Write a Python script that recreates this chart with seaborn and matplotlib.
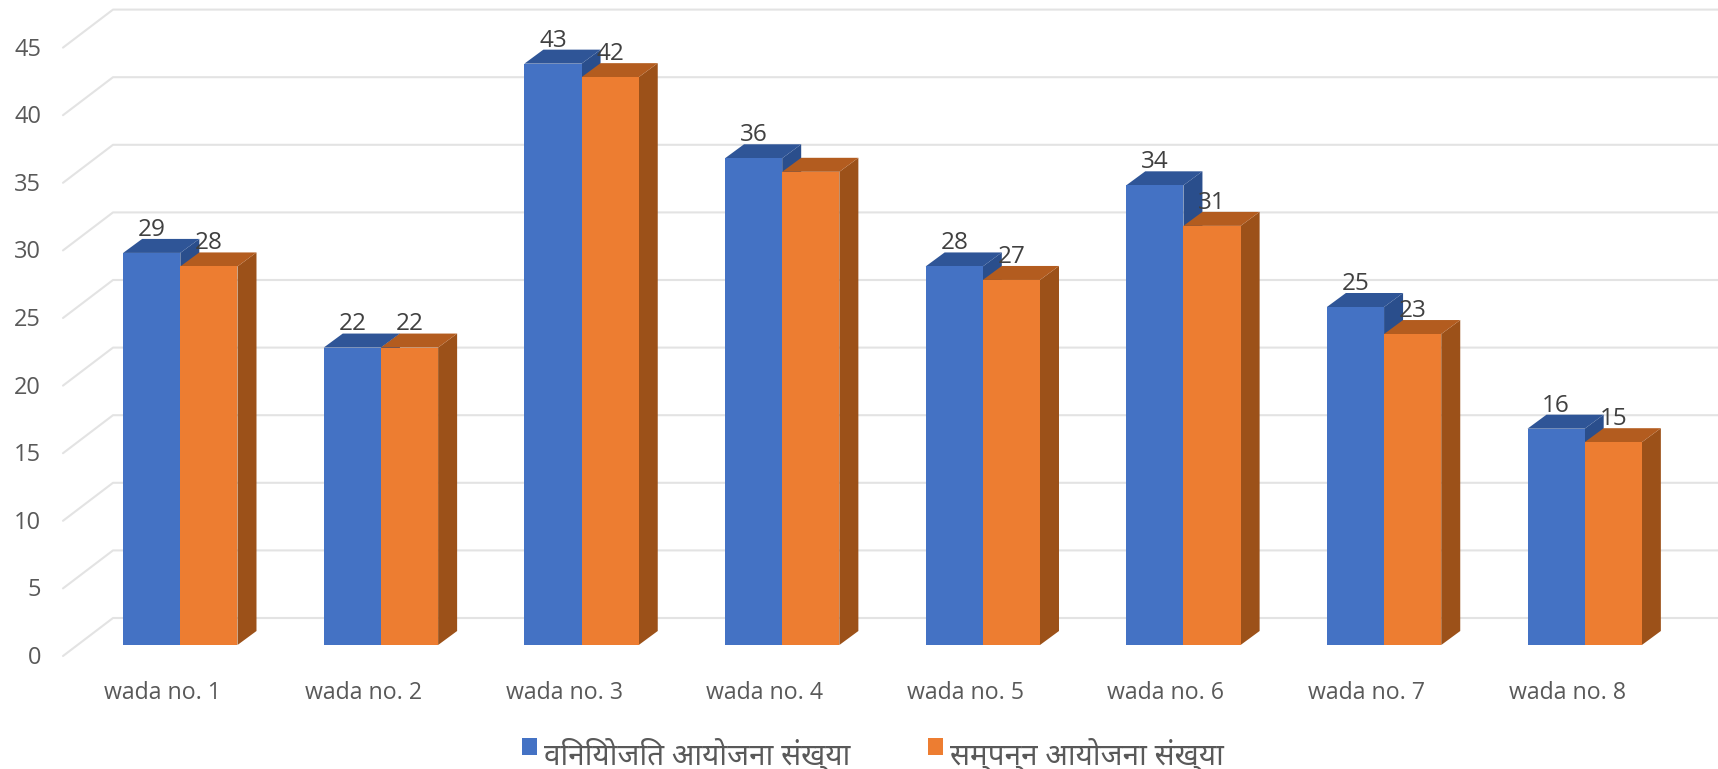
import matplotlib
matplotlib.use("Agg")
import matplotlib.pyplot as plt
import matplotlib.transforms as mtrans
from matplotlib.patches import Polygon
import pandas as pd
import seaborn as sns

# Chart data
wards = ["wada no. 1", "wada no. 2", "wada no. 3", "wada no. 4",
         "wada no. 5", "wada no. 6", "wada no. 7", "wada no. 8"]
allocated = [29, 22, 43, 36, 28, 34, 25, 16]
completed = [28, 22, 42, 35, 27, 31, 23, 15]
# the reference prints no value over the orange bar of wada no. 4
allocated_labels = ["29", "22", "43", "36", "28", "34", "25", "16"]
completed_labels = ["28", "22", "42", "", "27", "31", "23", "15"]
series_names = ["विनियोजित आयोजना संख्या", "सम्पन्न आयोजना संख्या"]
y_ticks = [0, 5, 10, 15, 20, 25, 30, 35, 40, 45]

colors = ["#4472C4", "#ED7D31"]
top_colors = ["#2F5597", "#B35C1F"]
side_colors = ["#2A4E8C", "#9C5119"]
text_color = "#595959"

W, H = 1718, 769
PX_X = 200.6   # pixels per category
PX_Y = 13.52   # pixels per value unit
AX_L, AX_R, AX_T, AX_B = 80, 1685, 10, 645

df = pd.DataFrame({"ward": wards * 2,
                   "count": allocated + completed,
                   "series": [series_names[0]] * 8 + [series_names[1]] * 8})

sns.set_theme(style="white")
plt.rcParams["font.family"] = ["Open Sans", "Noto Sans Devanagari", "DejaVu Sans"]

fig = plt.figure(figsize=(W / 100, H / 100), dpi=100)
ax = fig.add_axes([AX_L / W, 1 - AX_B / H, (AX_R - AX_L) / W, (AX_B - AX_T) / H])

sns.barplot(data=df, x="ward", y="count", hue="series", order=wards,
            hue_order=series_names, palette=colors, width=0.57, gap=0,
            saturation=1, linewidth=0, ax=ax)

ax.set_xlim(-0.5, 7.5)
ax.set_ylim(0, (AX_B - AX_T) / PX_Y)
ax.set_xlabel("")
ax.set_ylabel("")
for s in ax.spines.values():
    s.set_visible(False)

# back wall and floor lines, offset like the 3D perspective
x_edge_l = -0.5 + (63 - AX_L) / PX_X
x_corner = -0.5 + (113 - AX_L) / PX_X
x_edge_r = -0.5 + (W - AX_L) / PX_X
for v in y_ticks:
    ax.plot([x_edge_l, x_corner, x_edge_r],
            [v - 11 / PX_Y, v + 27 / PX_Y, v + 27 / PX_Y],
            color="#E3E3E3", lw=1.5, clip_on=False, zorder=0.5,
            solid_joinstyle="round")

# side and top faces built from each drawn bar
dx = 19 / PX_X
dy = 14 / PX_Y
bar_texts = [allocated_labels, completed_labels]
for n, cont in enumerate(ax.containers):
    for bar in cont:
        bar.set_zorder(3)
        x0 = bar.get_x()
        x1 = x0 + bar.get_width()
        h = bar.get_height()
        ax.add_patch(Polygon([(x1, 0), (x1 + dx, dy), (x1 + dx, h + dy), (x1, h)],
                             color=side_colors[n], lw=0, zorder=2 + n * 0.1))
        ax.add_patch(Polygon([(x0, h), (x0 + dx, h + dy), (x1 + dx, h + dy), (x1, h)],
                             color=top_colors[n], lw=0, zorder=2.05 + n * 0.1))
    ax.bar_label(cont, labels=bar_texts[n], padding=8, fontsize=17.5,
                 color="#404040", zorder=5)

# tick labels sit on the front edge of the floor
ax.set_yticks(y_ticks)
ax.tick_params(axis="both", length=0, labelsize=17, labelcolor=text_color)
ax.tick_params(axis="y", pad=28)
y_shift = mtrans.ScaledTranslation(0, -10 / 100, fig.dpi_scale_trans)
for lab in ax.get_yticklabels():
    lab.set_transform(lab.get_transform() + y_shift)
ax.tick_params(axis="x", pad=26, labelsize=16.7)
x_shift = mtrans.ScaledTranslation(-17.5 / 100, 0, fig.dpi_scale_trans)
for lab in ax.get_xticklabels():
    lab.set_transform(lab.get_transform() + x_shift)

sns.move_legend(ax, "lower center", bbox_to_anchor=(873 / W, -5.5 / H),
                bbox_transform=fig.transFigure, ncol=2, title=None,
                frameon=False, fontsize=21.3, handlelength=0.51, handleheight=0.51,
                handletextpad=0.25, columnspacing=2.6, labelcolor=text_color,
                borderpad=0.1, borderaxespad=0)
# squares sit high against the text in the reference
for handle in ax.get_legend().legend_handles:
    handle.set_y(handle.get_y() + 5)

fig.savefig("out.png", dpi=100)
